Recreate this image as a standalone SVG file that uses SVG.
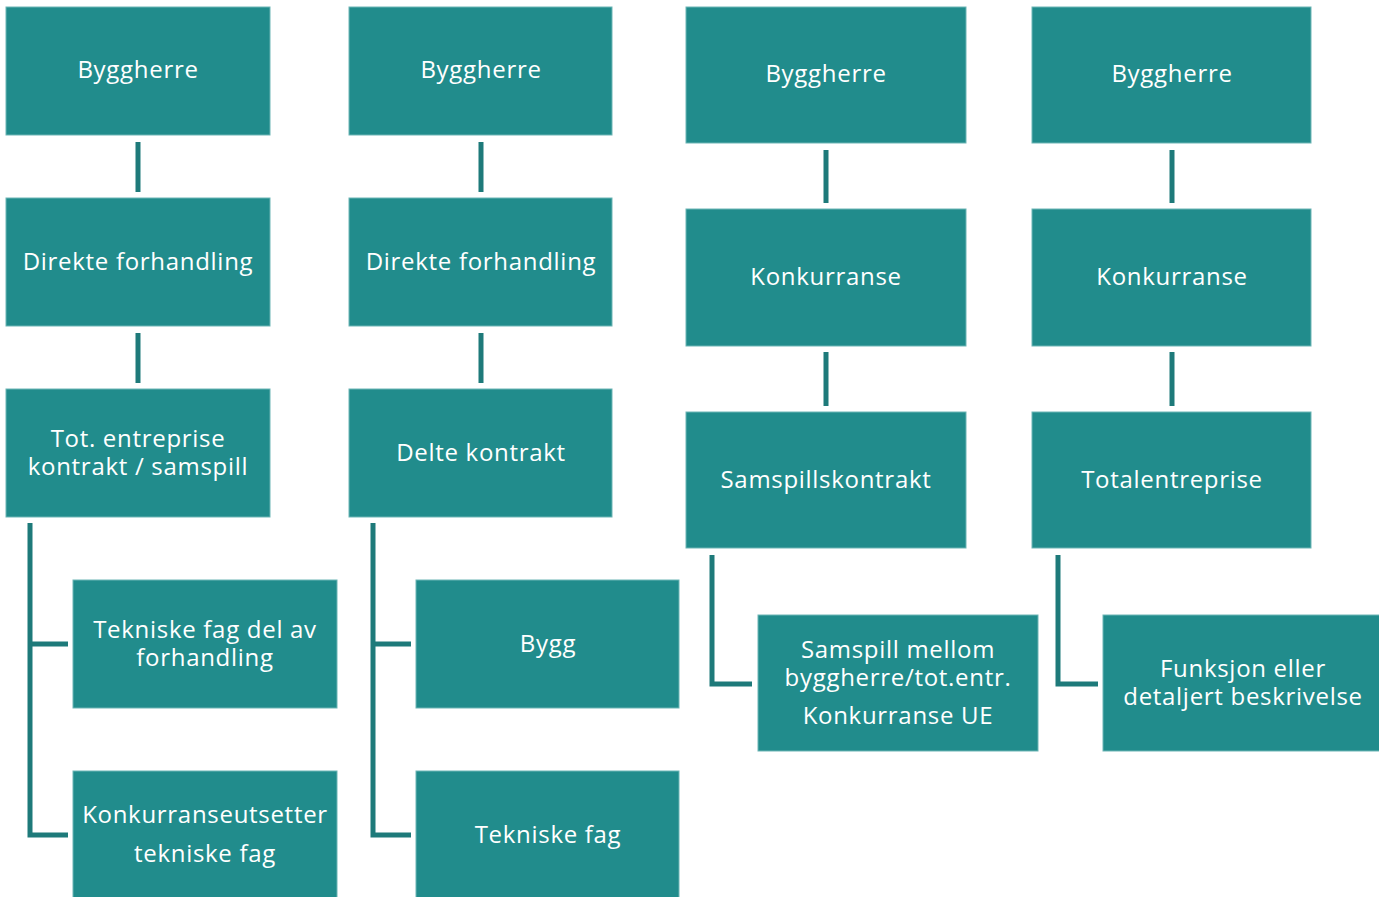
<svg xmlns="http://www.w3.org/2000/svg" width="1379" height="897" viewBox="0 0 1379 897">
<style>
.box{fill:#218C8C;stroke:#6DB5B5;stroke-width:1}
.t{font-family:"Open Sans","DejaVu Sans",sans-serif;font-size:24px;letter-spacing:0.7px;fill:#FFFFFF;text-anchor:middle}
.c{fill:none;stroke:#1E7A7A;stroke-width:5}
</style>
<rect width="1379" height="897" fill="#FFFFFF"/>
<g id="connectors">
<path class="c" d="M138 142V192M138 333V383M30 523V835H68M30 644H68"/>
<path class="c" d="M481 142V192M481 333V383M373 523V835H411M373 644H411"/>
<path class="c" d="M826 150V203M826 352V406M712 555V684H752"/>
<path class="c" d="M1172 150V203M1172 352V406M1058 555V684H1098"/>
</g>
<g id="n1a"><rect class="box" x="6" y="7" width="264" height="128"/><text class="t" x="138" y="78">Byggherre</text></g>
<g id="n1b"><rect class="box" x="6" y="198" width="264" height="128"/><text class="t" x="138" y="270">Direkte forhandling</text></g>
<g id="n1c"><rect class="box" x="6" y="389" width="264" height="128"/><text class="t" x="138" y="447">Tot. entreprise</text><text class="t" x="138" y="475">kontrakt / samspill</text></g>
<g id="n1d"><rect class="box" x="73" y="580" width="264" height="128"/><text class="t" x="205" y="638">Tekniske fag del av</text><text class="t" x="205" y="666">forhandling</text></g>
<g id="n1e"><rect class="box" x="73" y="771" width="264" height="130"/><text class="t" x="205" y="823">Konkurranseutsetter</text><text class="t" x="205" y="862">tekniske fag</text></g>
<g id="n2a"><rect class="box" x="349" y="7" width="263" height="128"/><text class="t" x="481" y="78">Byggherre</text></g>
<g id="n2b"><rect class="box" x="349" y="198" width="263" height="128"/><text class="t" x="481" y="270">Direkte forhandling</text></g>
<g id="n2c"><rect class="box" x="349" y="389" width="263" height="128"/><text class="t" x="481" y="461">Delte kontrakt</text></g>
<g id="n2d"><rect class="box" x="416" y="580" width="263" height="128"/><text class="t" x="548" y="652">Bygg</text></g>
<g id="n2e"><rect class="box" x="416" y="771" width="263" height="130"/><text class="t" x="548" y="843">Tekniske fag</text></g>
<g id="n3a"><rect class="box" x="686" y="7" width="280" height="136"/><text class="t" x="826" y="82">Byggherre</text></g>
<g id="n3b"><rect class="box" x="686" y="209" width="280" height="137"/><text class="t" x="826" y="285">Konkurranse</text></g>
<g id="n3c"><rect class="box" x="686" y="412" width="280" height="136"/><text class="t" x="826" y="488">Samspillskontrakt</text></g>
<g id="n3d"><rect class="box" x="758" y="615" width="280" height="136"/><text class="t" x="898" y="658">Samspill mellom</text><text class="t" x="898" y="686">byggherre/tot.entr.</text><text class="t" x="898" y="724">Konkurranse UE</text></g>
<g id="n4a"><rect class="box" x="1032" y="7" width="279" height="136"/><text class="t" x="1172" y="82">Byggherre</text></g>
<g id="n4b"><rect class="box" x="1032" y="209" width="279" height="137"/><text class="t" x="1172" y="285">Konkurranse</text></g>
<g id="n4c"><rect class="box" x="1032" y="412" width="279" height="136"/><text class="t" x="1172" y="488">Totalentreprise</text></g>
<g id="n4d"><rect class="box" x="1103" y="615" width="280" height="136"/><text class="t" x="1243" y="677">Funksjon eller</text><text class="t" x="1243" y="705">detaljert beskrivelse</text></g>
</svg>
